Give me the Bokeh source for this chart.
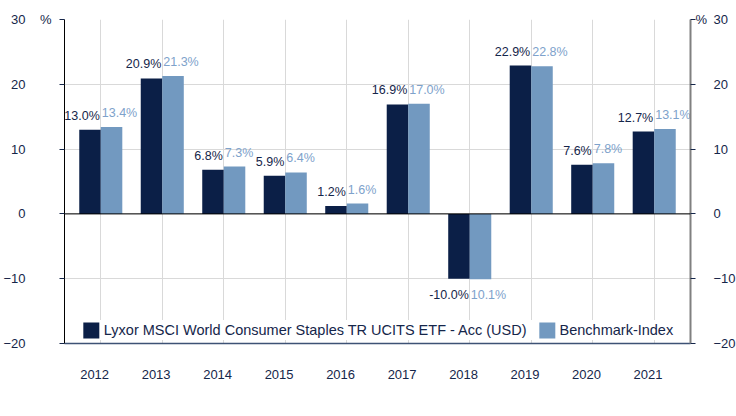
import numpy as np
from bokeh.plotting import figure
from bokeh.models import (Range1d, LinearAxis, FixedTicker, Grid, Span, Legend,
                          LegendItem, ColumnDataSource)
from bokeh.core.properties import value
from bokeh.embed import file_html
from bokeh.resources import INLINE

years = ["2012", "2013", "2014", "2015", "2016", "2017", "2018", "2019", "2020", "2021"]
etf = [13.0, 20.9, 6.8, 5.9, 1.2, 16.9, -10.0, 22.9, 7.6, 12.7]
bench = [13.4, 21.3, 7.3, 6.4, 1.6, 17.0, -10.1, 22.8, 7.8, 13.1]
etf_labels = ["13.0%", "20.9%", "6.8%", "5.9%", "1.2%", "16.9%", "-10.0%", "22.9%", "7.6%", "12.7%"]
bench_labels = ["13.4%", "21.3%", "7.3%", "6.4%", "1.6%", "17.0%", "10.1%", "22.8%", "7.8%", "13.1%"]
y_ticks = [-20, -10, 0, 10, 20, 30]
unit_label = "%"
series_names = ["Lyxor MSCI World Consumer Staples TR UCITS ETF - Acc (USD)", "Benchmark-Index"]

DARK = "#0b1f47"
LIGHT = "#7299c0"
TXT = "#15264a"
LTXT = "#7ea2cb"
FONT = "Liberation Sans"

idx = np.arange(len(years))
bw = 0.35

p = figure(frame_width=626, frame_height=324, output_backend="svg", toolbar_location=None,
           x_range=Range1d(-0.59, 9.59), y_range=Range1d(-20, 30),
           x_axis_type=None, y_axis_type=None,
           min_border_top=19, min_border_left=58, min_border_right=0, min_border_bottom=0)
p.outline_line_color = None
p.background_fill_color = "white"
p.border_fill_color = "white"

# grids
p.add_layout(Grid(dimension=1, ticker=FixedTicker(ticks=y_ticks), grid_line_color="#d9d9d9", grid_line_width=1))
p.add_layout(Grid(dimension=0, ticker=FixedTicker(ticks=[float(i) for i in idx]), grid_line_color="#d9d9d9", grid_line_width=1))

src = ColumnDataSource(dict(xd=idx - bw / 2, xl=idx + bw / 2, etf=etf, bench=bench))
r1 = p.vbar(x="xd", top="etf", bottom=0, width=bw, source=src, fill_color=DARK, line_color=None)
r2 = p.vbar(x="xl", top="bench", bottom=0, width=bw, source=src, fill_color=LIGHT, line_color=None)

p.add_layout(Span(location=0, dimension="width", line_color="black", line_width=1))

# data labels
pos = [i for i in range(len(years)) if etf[i] >= 0]
neg = [i for i in range(len(years)) if etf[i] < 0]
for sel, base, yoff in ((pos, "bottom", -7), (neg, "top", 9)):
    s = ColumnDataSource(dict(
        c=[float(idx[i]) for i in sel],
        ye=[etf[i] for i in sel], yb=[bench[i] for i in sel],
        el=[etf_labels[i] for i in sel], bl=[bench_labels[i] for i in sel]))
    p.text(x="c", y="ye", text="el", source=s, text_align="right", text_baseline=base,
           x_offset=-1, y_offset=yoff, text_font=value(FONT), text_font_size="12.5px", text_color=TXT)
    p.text(x="c", y="yb", text="bl", source=s, text_align="left", text_baseline=base,
           x_offset=1, y_offset=yoff, text_font=value(FONT), text_font_size="12.5px", text_color=LTXT)

def style_y(ax, standoff):
    ax.major_tick_in = 0
    ax.minor_tick_line_color = None
    ax.major_label_standoff = standoff
    ax.major_label_text_font = FONT
    ax.major_label_text_font_size = "13px"
    ax.major_label_text_color = TXT

unit_over = {t: (unit_label if t == y_ticks[-1] else "") for t in y_ticks}

yl_in = LinearAxis(ticker=FixedTicker(ticks=y_ticks), major_label_overrides=unit_over)
style_y(yl_in, 8)
yl_in.axis_line_color = "black"
yl_in.major_tick_out = 5
yl_in.major_tick_line_color = TXT
p.add_layout(yl_in, "left")

yl_out = LinearAxis(ticker=FixedTicker(ticks=y_ticks))
style_y(yl_out, 11)
yl_out.axis_line_color = None
yl_out.major_tick_line_color = None
yl_out.major_tick_out = 0
p.add_layout(yl_out, "left")

yr_in = LinearAxis(ticker=FixedTicker(ticks=y_ticks), major_label_overrides=unit_over)
style_y(yr_in, 0)
yr_in.axis_line_color = "#808080"
yr_in.axis_line_width = 2
yr_in.major_tick_out = 5
yr_in.major_tick_line_color = TXT
p.add_layout(yr_in, "right")

yr_out = LinearAxis(ticker=FixedTicker(ticks=y_ticks))
style_y(yr_out, 3)
yr_out.axis_line_color = None
yr_out.major_tick_line_color = None
yr_out.major_tick_out = 0
p.add_layout(yr_out, "right")

lab_pos = [float(i) - 0.1 for i in idx]
xa = LinearAxis(ticker=FixedTicker(ticks=lab_pos))
xa.major_label_overrides = {t: y for t, y in zip(lab_pos, years)}
xa.axis_line_color = "#3d5275"
xa.axis_line_width = 1.5
xa.major_tick_line_color = None
xa.major_tick_out = 0
xa.major_tick_in = 0
xa.minor_tick_line_color = None
xa.major_label_standoff = 26
xa.major_label_text_font = FONT
xa.major_label_text_font_size = "13px"
xa.major_label_text_color = TXT
p.add_layout(xa, "below")

legend = Legend(items=[LegendItem(label=series_names[0], renderers=[r1]),
                       LegendItem(label=series_names[1], renderers=[r2])],
                orientation="horizontal", location="bottom_center",
                glyph_width=20, glyph_height=20, label_standoff=3, spacing=10,
                padding=0, margin=3, border_line_color=None,
                background_fill_color="white", background_fill_alpha=1,
                label_text_font=FONT, label_text_font_size="14.5px", label_text_color=TXT)
p.add_layout(legend)

open("out.html", "w").write(file_html(p, INLINE))
